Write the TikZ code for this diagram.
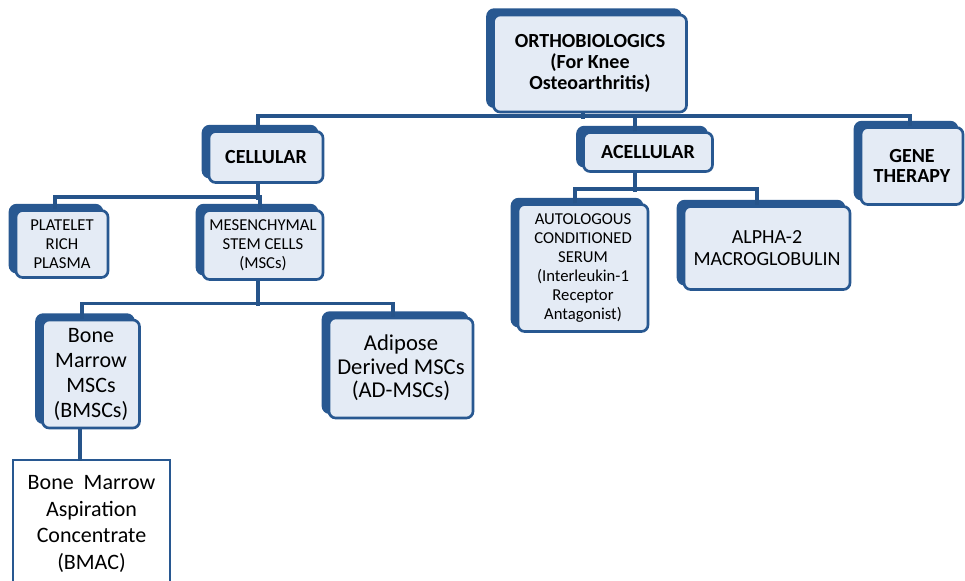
\documentclass[tikz,border=0pt]{standalone}
\usepackage{fontspec}
\setmainfont{Carlito}
\usetikzlibrary{shadows}
\definecolor{boxblue}{RGB}{40,88,145}
\definecolor{boxfill}{RGB}{228,235,245}
\definecolor{lineblue}{RGB}{38,84,138}
\tikzset{
  box/.style={draw=boxblue, line width=2pt, rounded corners=5pt, fill=boxfill,
    align=center, inner sep=0pt, text=black,
    general shadow={shadow xshift=-4.5pt, shadow yshift=4pt, fill=boxblue,
      draw=boxblue, rounded corners=5pt}},
  headbox/.style={box, font=\fontsize{15}{16}\selectfont\bfseries},
  smallbox/.style={box, font=\fontsize{12.5}{14.25}\selectfont},
  plainbox/.style={draw=boxblue, line width=2pt, fill=white, align=center,
    inner sep=0pt, text=black},
  link/.style={draw=lineblue, line width=2.6pt}
}

\begin{document}
\begin{tikzpicture}[x=0.75pt,y=-0.75pt]
  \useasboundingbox (0,0) rectangle (965,581);
  % first level
  \node[headbox, minimum width=144.75pt, minimum height=72.75pt] (ortho) at (590,63.5)
    {ORTHOBIOLOGICS\\(For Knee\\Osteoarthritis)};
  \node[headbox, minimum width=85.5pt, minimum height=38.25pt] (cell) at (266,157) {CELLULAR};
  \node[headbox, minimum width=96.75pt, minimum height=29.25pt] (acell) at (648,152) {ACELLULAR};
  \node[headbox, font=\fontsize{15}{15}\selectfont\bfseries,
    minimum width=76.5pt, minimum height=57.75pt] (gene) at (912,166) {GENE\\THERAPY};
  % cellular branch
  \node[smallbox, minimum width=69pt, minimum height=50.25pt] (prp) at (62,244)
    {PLATELET\\RICH\\PLASMA};
  \node[smallbox, minimum width=90pt, minimum height=51.75pt] (msc) at (263,245)
    {MESENCHYMAL\\STEM CELLS\\(MSCs)};
  \node[box, font=\fontsize{16.5}{18.75}\selectfont,
    minimum width=72.75pt, minimum height=81pt] (bmsc) at (91,374)
    {Bone\\Marrow\\MSCs\\(BMSCs)};
  \node[box, font=\fontsize{17}{17.5}\selectfont,
    minimum width=108pt, minimum height=75pt] (ad) at (401,368)
    {Adipose\\Derived MSCs\\(AD-MSCs)};
  \node[plainbox, font=\fontsize{16.5}{20}\selectfont,
    minimum width=117.75pt, minimum height=96pt] (bmac) at (91.5,524)
    {Bone~~Marrow\\Aspiration\\Concentrate\\(BMAC)};
  % acellular branch
  \node[smallbox, minimum width=97.5pt, minimum height=95.25pt] (acs) at (583,268)
    {AUTOLOGOUS\\CONDITIONED\\SERUM\\(Interleukin-1\\Receptor\\Antagonist)};
  \node[box, font=\fontsize{15}{16.5}\selectfont,
    minimum width=124.5pt, minimum height=62.25pt] (alpha) at (767,248)
    {ALPHA-2\\MACROGLOBULIN};

  % connectors
  \draw[link] ([xshift=-6pt]cell.north) -- ++(0,-14) -| ([xshift=-1.5pt]gene.north);
  \draw[link] ([xshift=-5.25pt]ortho.south) -- ++(0,6);
  \draw[link] ([xshift=-9.75pt]acell.north) -- ++(0,-15);
  \draw[link] ([xshift=-6pt]cell.south) -- ++(0,16);
  \draw[link] ([xshift=-5.25pt]prp.north) -- ++(0,-12) -| ([xshift=-2.25pt]msc.north);
  \draw[link] ([xshift=-3.75pt]msc.south) -- ++(0,25);
  \draw[link] ([xshift=-6.75pt]bmsc.north) -- ++(0,-15) -| ([xshift=-6pt]ad.north);
  \draw[link] ([xshift=-8.25pt]bmsc.south) -- ++(0,32);
  \draw[link] ([xshift=-9.75pt]acell.south) -- ++(0,19);
  \draw[link] ([xshift=-6pt]acs.north) -- ++(0,-14) -| ([xshift=-7.5pt]alpha.north);
\end{tikzpicture}
\end{document}
